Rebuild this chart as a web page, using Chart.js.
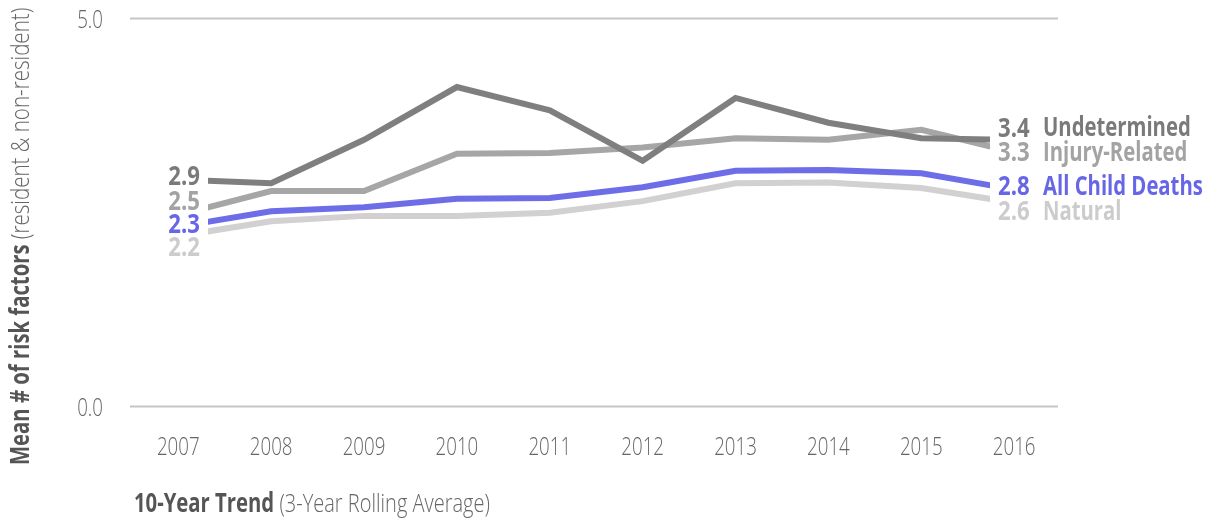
<!DOCTYPE html>
<html>
<head>
<meta charset="utf-8">
<script src="https://cdn.jsdelivr.net/npm/chart.js@4.4.1/dist/chart.umd.min.js"></script>
<style>
  html, body { margin: 0; padding: 0; background: #fff; }
  #wrap { width: 1213px; height: 518px; }
</style>
</head>
<body>
<div id="wrap"><canvas id="trendChart" width="1213" height="518"></canvas></div>
<script>
// data
var years = [2007, 2008, 2009, 2010, 2011, 2012, 2013, 2014, 2015, 2016];
var undetermined = [2.92, 2.87, 3.43, 4.11, 3.81, 3.16, 3.97, 3.65, 3.45, 3.43];
var injuryRelated = [2.46, 2.77, 2.77, 3.25, 3.26, 3.33, 3.45, 3.43, 3.56, 3.27];
var allChildDeaths = [2.31, 2.51, 2.56, 2.67, 2.68, 2.82, 3.03, 3.04, 3.00, 2.79];
var natural = [2.19, 2.38, 2.45, 2.45, 2.49, 2.64, 2.87, 2.88, 2.81, 2.62];
var seriesNames = ['Undetermined', 'Injury-Related', 'All Child Deaths', 'Natural'];
var yTicks = [0, 5];

var FONT = "'Open Sans', 'Noto Sans', sans-serif";
var LIGHT = '300 26px ' + FONT;
var BOLD = '700 26px ' + FONT;
var colors = ['#7f7f7f', '#a6a6a6', '#6d6de8', '#d2d0d0'];
var textColors = ['#7a7a7a', '#a3a3a3', '#6666e6', '#cccccc'];
// label nudges (px) so the end labels don't collide
var leftNudge = [-2, -13, -1, 12];
var rightNudge = [-11, 1, -2, 10];

function pts(vals) {
    return vals.map(function (v, i) { return { x: years[i], y: v }; });
}

// no condensed face installed, so squeeze the text horizontally
function squeezed(ctx, text, x, y, sx, align) {
    ctx.save();
    ctx.translate(x, y);
    ctx.scale(sx, 1);
    ctx.textAlign = align;
    ctx.fillText(text, 0, 0);
    var w = ctx.measureText(text).width * sx;
    ctx.restore();
    return w;
}

var allSeries = [undetermined, injuryRelated, allChildDeaths, natural];

var decorPlugin = {
    id: 'decor',
    beforeDatasetsDraw: function (chart) {
        var ctx = chart.ctx, xs = chart.scales.x, ys = chart.scales.y;
        ctx.save();
        // gridlines
        ctx.strokeStyle = '#c6c6c6';
        ctx.lineWidth = 2;
        yTicks.forEach(function (t) {
            var y = Math.round(ys.getPixelForValue(t)) + 0.5;
            ctx.beginPath();
            ctx.moveTo(130, y);
            ctx.lineTo(1058, y);
            ctx.stroke();
        });
        ctx.textBaseline = 'alphabetic';
        ctx.fillStyle = '#666';
        ctx.font = LIGHT;
        // y tick labels
        yTicks.forEach(function (t) {
            squeezed(ctx, t.toFixed(1), 103, ys.getPixelForValue(t) + 10, 0.72, 'right');
        });
        // x tick labels
        years.forEach(function (yr) {
            squeezed(ctx, String(yr), xs.getPixelForValue(yr), 455, 0.72, 'center');
        });
        // x title
        ctx.fillStyle = '#555';
        ctx.font = BOLD;
        var w1 = squeezed(ctx, '10-Year Trend', 134, 512, 0.78, 'left');
        ctx.fillStyle = '#666';
        ctx.font = LIGHT;
        squeezed(ctx, ' (3-Year Rolling Average)', 134 + w1, 512, 0.77, 'left');
        // y title (rotated)
        ctx.save();
        ctx.translate(29, 465);
        ctx.rotate(-Math.PI / 2);
        ctx.fillStyle = '#555';
        ctx.font = BOLD;
        var a1 = squeezed(ctx, 'Mean # of risk factors', 0, 0, 0.78, 'left');
        ctx.fillStyle = '#666';
        ctx.font = LIGHT;
        squeezed(ctx, ' (resident & non-resident)', a1, 0, 0.79, 'left');
        ctx.restore();
        ctx.restore();
    },
    afterDatasetsDraw: function (chart) {
        var ctx = chart.ctx, ys = chart.scales.y;
        ctx.save();
        ctx.textBaseline = 'middle';
        allSeries.forEach(function (vals, i) {
            var first = vals[0], last = vals[vals.length - 1];
            ctx.fillStyle = textColors[i];
            ctx.font = '700 27px ' + FONT;
            squeezed(ctx, first.toFixed(1), 200, ys.getPixelForValue(first) + leftNudge[i], 0.82, 'right');
            var yR = ys.getPixelForValue(last) + rightNudge[i];
            squeezed(ctx, last.toFixed(1), 998, yR, 0.82, 'left');
            ctx.font = BOLD;
            squeezed(ctx, seriesNames[i], 1043, yR, 0.78, 'left');
        });
        ctx.restore();
    }
};

var ctx = document.getElementById('trendChart').getContext('2d');
var trendChart = new Chart(ctx, {
    type: 'line',
    data: {
        datasets: allSeries.map(function (vals, i) {
            return {
                label: seriesNames[i],
                data: pts(vals),
                borderColor: colors[i],
                borderWidth: 6,
                pointRadius: 0,
                fill: false,
                tension: 0,
                clip: 0
            };
        })
    },
    options: {
        responsive: false,
        animation: false,
        layout: { padding: { left: 208, right: 223, top: 18, bottom: 112 } },
        plugins: { legend: { display: false }, tooltip: { enabled: false } },
        scales: {
            x: { type: 'linear', display: false, min: 2007.32, max: 2015.74 },
            y: { display: false, min: 0, max: 5 }
        }
    },
    plugins: [decorPlugin]
});
</script>
</body>
</html>
